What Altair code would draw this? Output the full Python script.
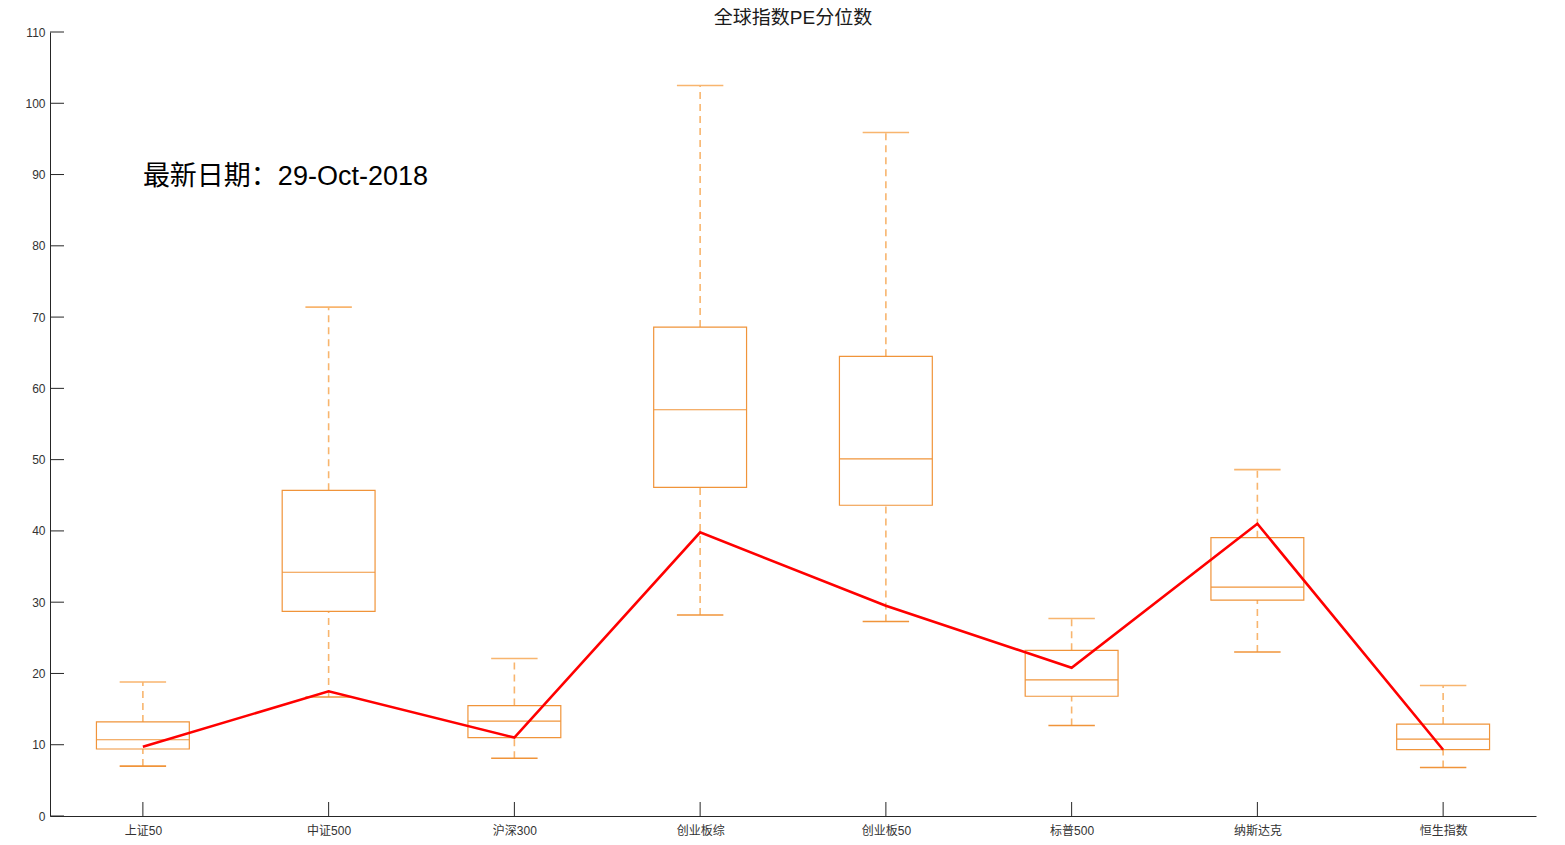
import json
import altair as alt
import pandas as pd

categories = ["上证50", "中证500", "沪深300", "创业板综", "创业板50", "标普500", "纳斯达克", "恒生指数"]
whisker_high = [18.8, 71.4, 22.1, 102.5, 95.9, 27.7, 48.6, 18.3]
q3 = [13.2, 45.7, 15.5, 68.6, 64.5, 23.25, 39.05, 12.9]
median = [10.7, 34.2, 13.3, 57.0, 50.1, 19.1, 32.1, 10.8]
q1 = [9.4, 28.7, 11.0, 46.1, 43.6, 16.8, 30.3, 9.3]
whisker_low = [7.0, 16.7, 8.1, 28.2, 27.3, 12.7, 23.0, 6.8]
latest = [9.7, 17.5, 11.0, 39.8, 29.5, 20.8, 41.0, 9.3]
title_text = "全球指数PE分位数"
note_text = "最新日期：29-Oct-2018"
y_ticks = [0, 10, 20, 30, 40, 50, 60, 70, 80, 90, 100, 110]

FONT = "Liberation Sans, Arial, Noto Sans CJK SC"
BOX = "#F0943A"
WHISK = "#F8B56E"
AXC = "#262626"
W, H = 1486, 784

df = pd.DataFrame({
    "idx": list(range(1, len(categories) + 1)),
    "cat": categories,
    "hi": whisker_high,
    "q3": q3,
    "med": median,
    "q1": q1,
    "lo": whisker_low,
    "latest": latest,
})

label_expr = json.dumps(categories, ensure_ascii=False) + "[datum.value - 1]"

xscale = alt.Scale(domain=[0.5, 8.5], nice=False, zero=False)
yscale = alt.Scale(domain=[0, 110], nice=False)

xaxis = alt.Axis(values=list(range(1, 9)), labelExpr=label_expr, title=None, tickSize=0,
                 grid=False, domainColor=AXC, labelColor="#333333", labelFontSize=12,
                 labelFont=FONT, labelPadding=9)
yaxis = alt.Axis(values=y_ticks, title=None, tickSize=0, grid=False, domainColor=AXC,
                 labelColor="#333333", labelFontSize=12, labelFont=FONT, labelPadding=5)

base = alt.Chart(df).transform_calculate(
    bl="datum.idx - 0.25", br="datum.idx + 0.25",
    cl="datum.idx - 0.125", cr="datum.idx + 0.125",
)

box = base.mark_rect(fillOpacity=0, stroke=BOX, strokeWidth=1.2).encode(
    x=alt.X("bl:Q", scale=xscale, axis=xaxis),
    x2="br:Q",
    y=alt.Y("q1:Q", scale=yscale, axis=yaxis),
    y2="q3:Q",
)
med_rule = base.mark_rule(color=BOX, strokeWidth=1.2).encode(
    x="bl:Q", x2="br:Q", y="med:Q"
)
w_up = base.mark_rule(color=WHISK, strokeWidth=1.6, strokeDash=[7, 5]).encode(
    x="idx:Q", y="q3:Q", y2="hi:Q"
)
w_dn = base.mark_rule(color=WHISK, strokeWidth=1.6, strokeDash=[7, 5]).encode(
    x="idx:Q", y="lo:Q", y2="q1:Q"
)
cap_hi = base.mark_rule(color=WHISK, strokeWidth=1.6).encode(
    x="cl:Q", x2="cr:Q", y="hi:Q"
)
cap_lo = base.mark_rule(color=BOX, strokeWidth=1.6).encode(
    x="cl:Q", x2="cr:Q", y="lo:Q"
)
line = base.mark_line(color="#FF0000", strokeWidth=2.6).encode(
    x="idx:Q", y="latest:Q"
)

# inward ticks (MATLAB style)
ytick_df = pd.DataFrame({"v": y_ticks})
yticks = alt.Chart(ytick_df).mark_rule(color=AXC, strokeWidth=1).encode(
    y="v:Q", x=alt.value(0), x2=alt.value(14)
)
xticks = base.mark_rule(color=AXC, strokeWidth=1).encode(
    x="idx:Q", y=alt.value(H), y2=alt.value(H - 14)
)

note_df = pd.DataFrame({"x": [1], "y": [90], "t": [note_text]})
note = alt.Chart(note_df).mark_text(
    align="left", baseline="middle", fontSize=27, font=FONT, color="#000000", dy=2
).encode(x="x:Q", y="y:Q", text="t:N")

chart = alt.layer(
    w_up, w_dn, cap_hi, cap_lo, box, med_rule, line, yticks, xticks, note
).properties(
    width=W, height=H,
    title=alt.TitleParams(title_text, fontSize=19, font=FONT, fontWeight="normal",
                          color="#1a1a1a", offset=6, anchor="middle", dy=8),
    autosize=alt.AutoSizeParams(type="none"),
    padding={"left": 42, "top": 24, "right": 21, "bottom": 21},
).configure(background="white").configure_view(strokeWidth=0, stroke="white")

chart.save("out.html", embed_options={"renderer": "svg", "actions": False})
